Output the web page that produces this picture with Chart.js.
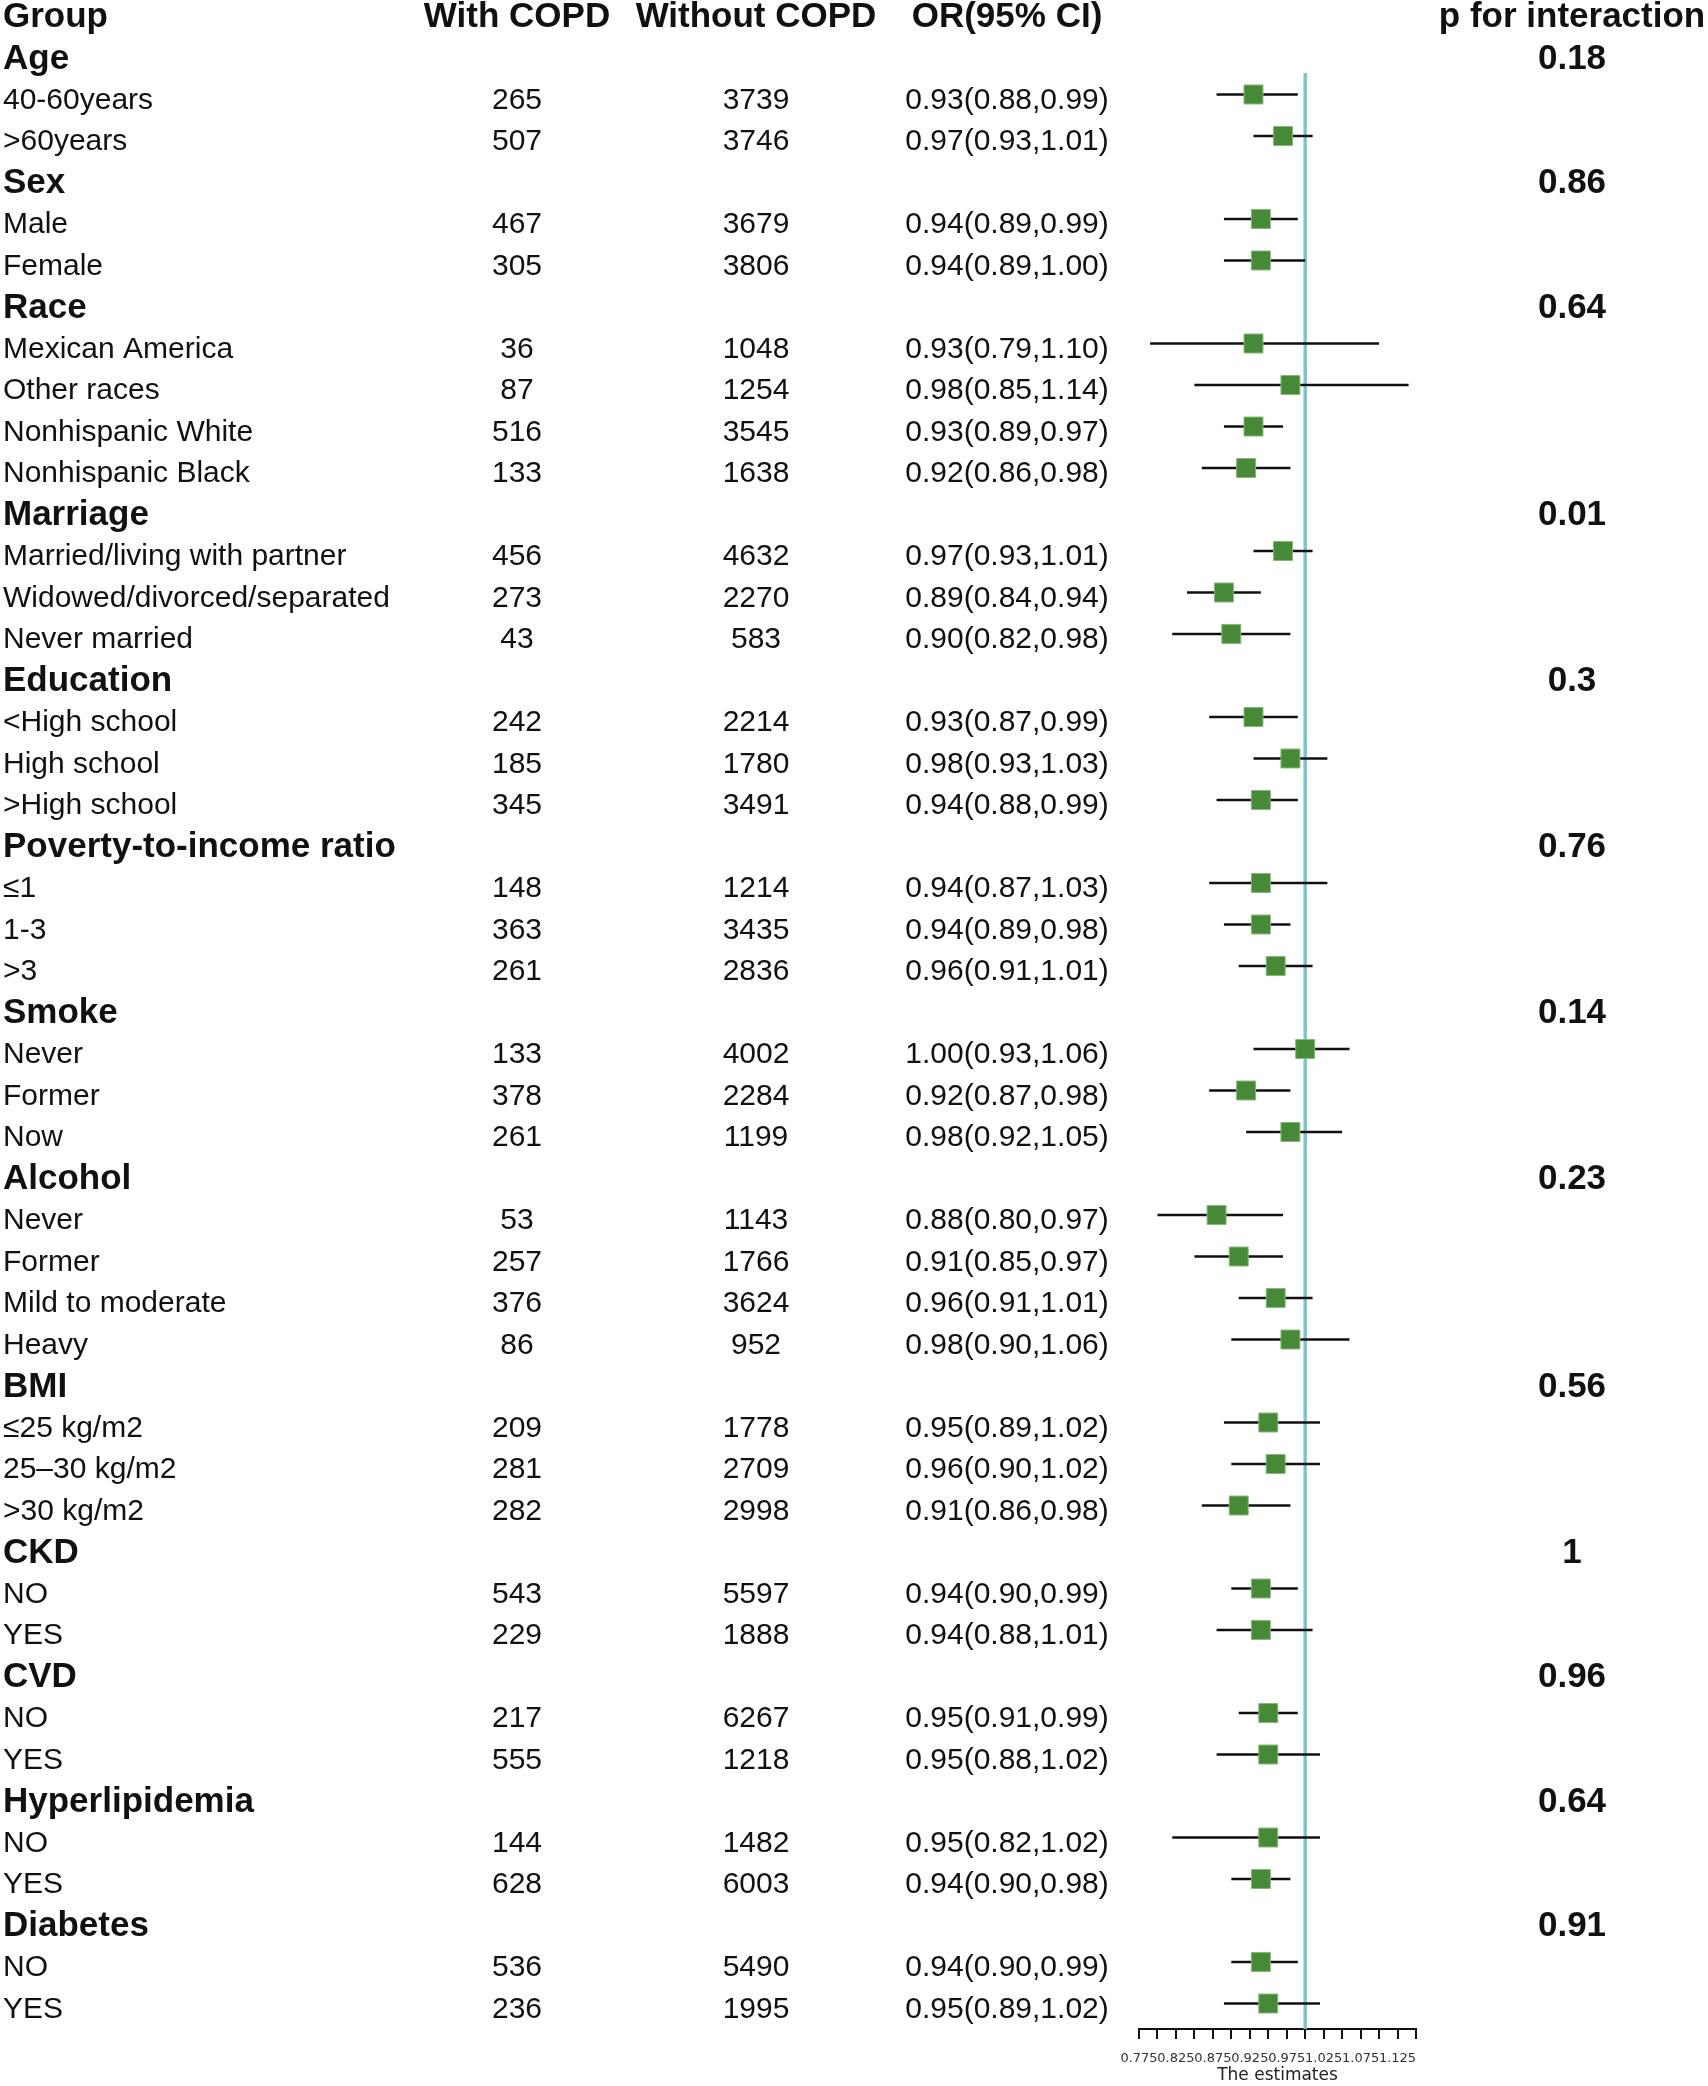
<!DOCTYPE html>
<html>
<head>
<meta charset="utf-8">
<title>Subgroup analysis - COPD</title>
<script src="https://cdn.jsdelivr.net/npm/chart.js@4.4.1/dist/chart.umd.min.js"></script>
<style>
  html, body { margin: 0; padding: 0; background: #fff; }
  #wrap { width: 1708px; height: 2086px; }
</style>
</head>
<body>
<div id="wrap"><canvas id="forestChart" width="1708" height="2086"></canvas></div>
<script>
/* table data, one entry per row under the header (null = group heading row) */
var headers = ['Group', 'With COPD', 'Without COPD', 'OR(95% CI)', 'p for interaction'];

var rowLabels = [
  'Age', '40-60years', '>60years',
  'Sex', 'Male', 'Female',
  'Race', 'Mexican America', 'Other races', 'Nonhispanic White', 'Nonhispanic Black',
  'Marriage', 'Married/living with partner', 'Widowed/divorced/separated', 'Never married',
  'Education', '<High school', 'High school', '>High school',
  'Poverty-to-income ratio', '\u22641', '1-3', '>3',
  'Smoke', 'Never', 'Former', 'Now',
  'Alcohol', 'Never', 'Former', 'Mild to moderate', 'Heavy',
  'BMI', '\u226425 kg/m2', '25\u201330 kg/m2', '>30 kg/m2',
  'CKD', 'NO', 'YES',
  'CVD', 'NO', 'YES',
  'Hyperlipidemia', 'NO', 'YES',
  'Diabetes', 'NO', 'YES'
];

var withCOPD = [
  null, 265, 507,
  null, 467, 305,
  null, 36, 87, 516, 133,
  null, 456, 273, 43,
  null, 242, 185, 345,
  null, 148, 363, 261,
  null, 133, 378, 261,
  null, 53, 257, 376, 86,
  null, 209, 281, 282,
  null, 543, 229,
  null, 217, 555,
  null, 144, 628,
  null, 536, 236
];

var withoutCOPD = [
  null, 3739, 3746,
  null, 3679, 3806,
  null, 1048, 1254, 3545, 1638,
  null, 4632, 2270, 583,
  null, 2214, 1780, 3491,
  null, 1214, 3435, 2836,
  null, 4002, 2284, 1199,
  null, 1143, 1766, 3624, 952,
  null, 1778, 2709, 2998,
  null, 5597, 1888,
  null, 6267, 1218,
  null, 1482, 6003,
  null, 5490, 1995
];

var orValues = [
  null, 0.93, 0.97,
  null, 0.94, 0.94,
  null, 0.93, 0.98, 0.93, 0.92,
  null, 0.97, 0.89, 0.90,
  null, 0.93, 0.98, 0.94,
  null, 0.94, 0.94, 0.96,
  null, 1.00, 0.92, 0.98,
  null, 0.88, 0.91, 0.96, 0.98,
  null, 0.95, 0.96, 0.91,
  null, 0.94, 0.94,
  null, 0.95, 0.95,
  null, 0.95, 0.94,
  null, 0.94, 0.95
];

var ciLow = [
  null, 0.88, 0.93,
  null, 0.89, 0.89,
  null, 0.79, 0.85, 0.89, 0.86,
  null, 0.93, 0.84, 0.82,
  null, 0.87, 0.93, 0.88,
  null, 0.87, 0.89, 0.91,
  null, 0.93, 0.87, 0.92,
  null, 0.80, 0.85, 0.91, 0.90,
  null, 0.89, 0.90, 0.86,
  null, 0.90, 0.88,
  null, 0.91, 0.88,
  null, 0.82, 0.90,
  null, 0.90, 0.89
];

var ciHigh = [
  null, 0.99, 1.01,
  null, 0.99, 1.00,
  null, 1.10, 1.14, 0.97, 0.98,
  null, 1.01, 0.94, 0.98,
  null, 0.99, 1.03, 0.99,
  null, 1.03, 0.98, 1.01,
  null, 1.06, 0.98, 1.05,
  null, 0.97, 0.97, 1.01, 1.06,
  null, 1.02, 1.02, 0.98,
  null, 0.99, 1.01,
  null, 0.99, 1.02,
  null, 1.02, 0.98,
  null, 0.99, 1.02
];

var pInteraction = [
  '0.18', null, null,
  '0.86', null, null,
  '0.64', null, null, null, null,
  '0.01', null, null, null,
  '0.3', null, null, null,
  '0.76', null, null, null,
  '0.14', null, null, null,
  '0.23', null, null, null, null,
  '0.56', null, null, null,
  '1', null, null,
  '0.96', null, null,
  '0.64', null, null,
  '0.91', null, null
];

var xTicks = [0.775, 0.8, 0.825, 0.85, 0.875, 0.9, 0.925, 0.95, 0.975, 1.0,
              1.025, 1.05, 1.075, 1.1, 1.125, 1.15];
var xTickLabels = ['0.775', '', '0.825', '', '0.875', '', '0.925', '', '0.975', '',
                   '1.025', '', '1.075', '', '1.125', ''];
var refValue = 1;

/* layout */
var yMin = -0.277, yMax = 48.614;   // row 0 = header, rows step 1
var refTop = 1.48;
var colX = { label: 3, withC: 517, withoutC: 756, or: 1007, p: 1572 };
var regFont = '30px "Liberation Sans", Arial, sans-serif';
var boldFont = 'bold 35px "Liberation Sans", Arial, sans-serif';

function fmt(v) { return v.toFixed(2); }

function drawCell(ctx, text, x, y, align, bold) {
  ctx.font = bold ? boldFont : regFont;
  ctx.textAlign = align;
  ctx.textBaseline = 'alphabetic';
  // rows sit a little below the square markers
  ctx.fillText(text, x, y + 3.5 + (bold ? 12.3 : 10.7));
}

var tablePlugin = {
  id: 'tableText',
  afterDraw: function(chart) {
    var ctx = chart.ctx;
    var yScale = chart.scales.y;
    ctx.save();
    ctx.fillStyle = '#111';

    var y0 = yScale.getPixelForValue(0);
    drawCell(ctx, headers[0], colX.label, y0, 'left', true);
    drawCell(ctx, headers[1], colX.withC, y0, 'center', true);
    drawCell(ctx, headers[2], colX.withoutC, y0, 'center', true);
    drawCell(ctx, headers[3], colX.or, y0, 'center', true);
    drawCell(ctx, headers[4], colX.p, y0, 'center', true);

    rowLabels.forEach(function(label, i) {
      var y = yScale.getPixelForValue(i + 1);
      var isGroup = withCOPD[i] === null;
      drawCell(ctx, label, colX.label, y, 'left', isGroup);
      if (isGroup) {
        if (pInteraction[i] !== null) drawCell(ctx, pInteraction[i], colX.p, y, 'center', true);
      } else {
        drawCell(ctx, String(withCOPD[i]), colX.withC, y, 'center', false);
        drawCell(ctx, String(withoutCOPD[i]), colX.withoutC, y, 'center', false);
        drawCell(ctx, fmt(orValues[i]) + '(' + fmt(ciLow[i]) + ',' + fmt(ciHigh[i]) + ')',
                 colX.or, y, 'center', false);
      }
    });
    ctx.restore();
  }
};

/* build the datasets from the arrays */
var squares = [];
var ciLines = [];
orValues.forEach(function(v, i) {
  if (v === null) return;
  squares.push({ x: v, y: i + 1 });
  ciLines.push({ x: ciLow[i], y: i + 1 });
  ciLines.push({ x: ciHigh[i], y: i + 1 });
  ciLines.push({ x: null, y: null });   // break between rows
});

var config = {
  type: 'scatter',
  data: {
    datasets: [
      {
        type: 'scatter',
        label: 'OR',
        data: squares,
        order: 1,
        pointStyle: 'rect',
        pointRadius: 13.4,
        backgroundColor: '#468a37',
        borderColor: '#86b878',
        borderWidth: 1
      },
      {
        type: 'line',
        label: '95% CI',
        data: ciLines,
        order: 2,
        borderColor: '#111',
        borderWidth: 2.6,
        pointRadius: 0,
        spanGaps: false,
        tension: 0
      },
      {
        type: 'line',
        label: 'reference',
        data: [{ x: refValue, y: refTop }, { x: refValue, y: yMax }],
        order: 3,
        borderColor: '#7ec4cc',
        borderWidth: 3.5,
        pointRadius: 0
      }
    ]
  },
  options: {
    responsive: false,
    animation: false,
    layout: { autoPadding: false, padding: { left: 1139, right: 292, top: 0, bottom: 0 } },
    plugins: {
      legend: { display: false },
      tooltip: { enabled: false }
    },
    scales: {
      x: {
        type: 'linear',
        min: xTicks[0],
        max: xTicks[xTicks.length - 1],
        afterBuildTicks: function(scale) {
          scale.ticks = xTicks.map(function(v) { return { value: v }; });
        },
        afterFit: function(scale) { scale.height = 57; },
        ticks: {
          autoSkip: false,
          maxRotation: 0,
          minRotation: 0,
          padding: 12,
          color: '#333',
          font: { family: '"DejaVu Sans", sans-serif', size: 13 },
          callback: function(value, index) { return xTickLabels[index]; }
        },
        grid: { drawOnChartArea: false, color: '#111', lineWidth: 2, tickLength: 10 },
        border: { display: true, color: '#111', width: 2 },
        title: {
          display: true,
          text: 'The estimates',
          color: '#222',
          font: { family: '"DejaVu Sans", sans-serif', size: 17 },
          padding: { top: 0, bottom: 0 }
        }
      },
      y: {
        type: 'linear',
        display: false,
        reverse: true,
        min: yMin,
        max: yMax
      }
    }
  },
  plugins: [tablePlugin]
};

window.onload = function() {
  var ctx = document.getElementById('forestChart').getContext('2d');
  window.forestChart = new Chart(ctx, config);
};
</script>
</body>
</html>
